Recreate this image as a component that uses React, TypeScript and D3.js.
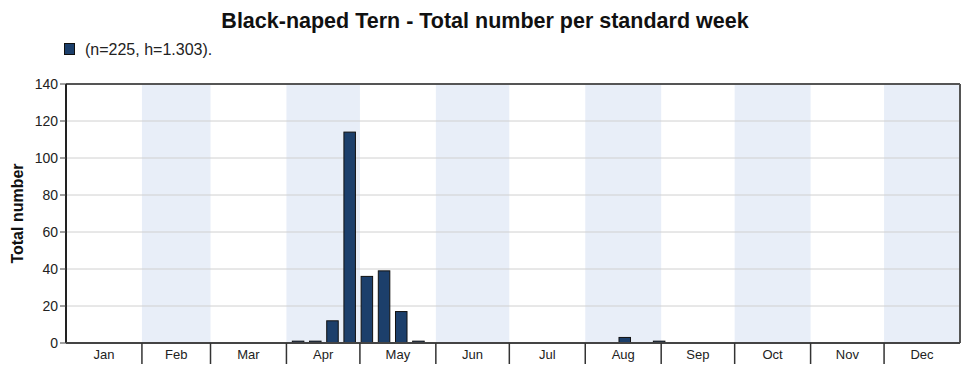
import React from "react";
import * as d3 from "d3";

const TITLE = "Black-naped Tern - Total number per standard week";
const LEGEND = "(n=225, h=1.303).";
const Y_LABEL = "Total number";
const MONTHS = ["Jan", "Feb", "Mar", "Apr", "May", "Jun", "Jul", "Aug", "Sep", "Oct", "Nov", "Dec"];
const MONTH_DAYS = [31, 28, 31, 30, 31, 30, 31, 31, 30, 31, 30, 31];
const Y_TICKS = [0, 20, 40, 60, 80, 100, 120, 140];
// standard weeks 1..52
const WEEKS = d3.range(1, 53);
const COUNTS: number[] = [
  0, 0, 0, 0, 0, 0, 0, 0, 0, 0, 0, 0, 0,
  1, 1, 12, 114, 36, 39, 17, 1,
  0, 0, 0, 0, 0, 0, 0, 0, 0, 0, 0,
  3, 0, 1,
  0, 0, 0, 0, 0, 0, 0, 0, 0, 0, 0, 0, 0, 0, 0, 0, 0,
];

const W = 975, H = 375;
const M = { left: 66, right: 15, top: 84, bottom: 32 };

export default function App() {
  const x0 = M.left, x1 = W - M.right;
  const y0 = H - M.bottom, y1 = M.top;
  const xDay = d3.scaleLinear().domain([0, 365]).range([x0, x1]);
  const xWeek = d3.scaleBand<number>().domain(WEEKS).range([x0, x1]).paddingInner(0.33).paddingOuter(0.165);
  const y = d3.scaleLinear().domain([0, 140]).range([y0, y1]);
  const starts = MONTH_DAYS.map((_, i) => d3.sum(MONTH_DAYS.slice(0, i)));
  const font = "'Liberation Sans', Arial, sans-serif";
  return (
    <svg width={W} height={H} style={{ position: "absolute", left: 0, top: 0, display: "block" }} fontFamily={font}>
      <rect width={W} height={H} fill="#fff" />
      {MONTHS.map((m, i) =>
        i % 2 === 1 ? (
          <rect key={m} x={xDay(starts[i])} y={y1} width={xDay(starts[i] + MONTH_DAYS[i]) - xDay(starts[i])} height={y0 - y1} fill="#e8eef8" />
        ) : null
      )}
      {Y_TICKS.filter((t) => t > 0 && t < 140).map((t) => (
        <line key={t} x1={x0} x2={x1} y1={y(t)} y2={y(t)} stroke="#d0d0d0" strokeWidth={1} />
      ))}
      {WEEKS.map((w, i) =>
        COUNTS[i] > 0 ? (
          <rect key={w} x={xWeek(w)} y={y(COUNTS[i])} width={xWeek.bandwidth()} height={y0 - y(COUNTS[i])} fill="#1c3f6b" stroke="#111" strokeWidth={1} />
        ) : null
      )}
      <line x1={x0} x2={x1} y1={y1} y2={y1} stroke="#555" strokeWidth={2} />
      <line x1={x1} x2={x1} y1={y1} y2={y0} stroke="#555" strokeWidth={2} />
      <line x1={x0} x2={x0} y1={y1} y2={y0} stroke="#222" strokeWidth={2} />
      <line x1={x0} x2={x1} y1={y0} y2={y0} stroke="#444" strokeWidth={2} />
      {Y_TICKS.map((t) => (
        <g key={t} transform={`translate(0,${y(t)})`}>
          <line x1={x0 - 6} x2={x0} stroke="#444" strokeWidth={1} />
          <text x={x0 - 8} dy="0.35em" textAnchor="end" fontSize={14} fill="#222">{t}</text>
        </g>
      ))}
      {starts.slice(1).map((s, i) => (
        <line key={i} x1={xDay(s)} x2={xDay(s)} y1={y0} y2={y0 + 21} stroke="#333" strokeWidth={1.5} />
      ))}
      {MONTHS.map((m, i) => (
        <text key={m} x={(xDay(starts[i]) + xDay(starts[i] + MONTH_DAYS[i])) / 2} y={y0 + 16} textAnchor="middle" fontSize={13} fill="#222">{m}</text>
      ))}
      <text x={485} y={28} textAnchor="middle" fontSize={21.5} fontWeight="bold" fill="#111">{TITLE}</text>
      <rect x={64.5} y={43.5} width={10} height={11} fill="#1c3f6b" stroke="#111" strokeWidth={1} />
      <text x={85} y={55} fontSize={16} fill="#222">{LEGEND}</text>
      <text transform={`translate(23,${(y0 + y1) / 2}) rotate(-90)`} textAnchor="middle" fontSize={16} fontWeight="bold" fill="#111">{Y_LABEL}</text>
    </svg>
  );
}
